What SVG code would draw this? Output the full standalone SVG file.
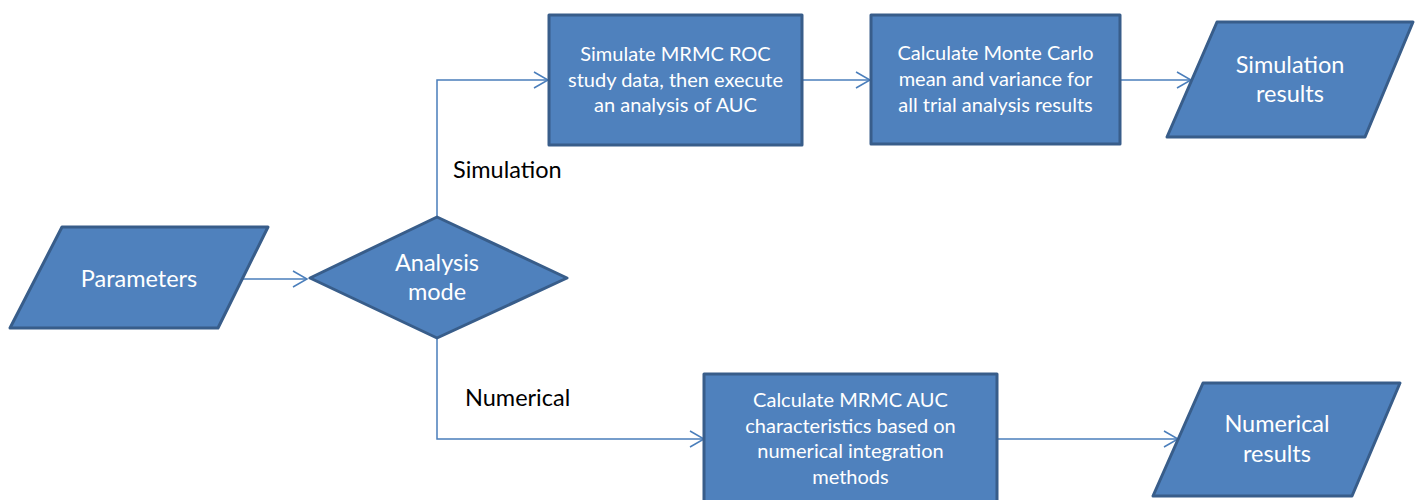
<svg xmlns="http://www.w3.org/2000/svg" width="1417" height="500" viewBox="0 0 1417 500">
  <style>
    .shape { fill: #4F81BD; stroke: #385D8A; stroke-width: 3; stroke-linejoin: round; }
    .wire { fill: none; stroke: #4A7EBB; stroke-width: 1.5; }
    .t { font-family: Lato, "Open Sans", sans-serif; fill: #FFFFFF; text-anchor: middle; }
    .big { font-size: 23.5px; }
    .small { font-size: 20px; }
    .lbl { font-family: Lato, "Open Sans", sans-serif; font-size: 23.5px; fill: #000000; }
  </style>
  <defs>
    <marker id="arrow" markerUnits="userSpaceOnUse" markerWidth="20" markerHeight="20" refX="15" refY="9" orient="auto">
      <path d="M1,1 L15,9 L1,17" fill="none" stroke="#4A7EBB" stroke-width="1.5"/>
    </marker>
  </defs>

  <rect width="1417" height="500" fill="#FFFFFF"/>

  <!-- connectors -->
  <g id="connectors">
    <path class="wire" d="M242,279 H307" marker-end="url(#arrow)"/>
    <path class="wire" d="M437,217 V80 H548" marker-end="url(#arrow)"/>
    <path class="wire" d="M437,338 V439 H704" marker-end="url(#arrow)"/>
    <path class="wire" d="M802,80 H870" marker-end="url(#arrow)"/>
    <path class="wire" d="M1120,80 H1191" marker-end="url(#arrow)"/>
    <path class="wire" d="M997,439 H1178" marker-end="url(#arrow)"/>
  </g>

  <!-- branch labels -->
  <g id="label-simulation">
    <text class="lbl" x="453" y="178">Simulation</text>
  </g>
  <g id="label-numerical">
    <text class="lbl" x="465" y="406">Numerical</text>
  </g>

  <!-- input -->
  <g id="parameters">
    <polygon class="shape" points="62,227 268,227 218,328 10,328"/>
    <text class="t big" x="139" y="287">Parameters</text>
  </g>

  <!-- decision -->
  <g id="analysis-mode">
    <polygon class="shape" points="310,278 437,217 567,278 437,338"/>
    <text class="t big" x="437" y="271">Analysis</text>
    <text class="t big" x="437" y="300">mode</text>
  </g>

  <!-- simulation branch -->
  <g id="simulate">
    <rect class="shape" x="549" y="15" width="253" height="130"/>
    <text class="t small" x="675.5" y="61">Simulate MRMC ROC</text>
    <text class="t small" x="675.5" y="87">study data, then execute</text>
    <text class="t small" x="675.5" y="112">an analysis of AUC</text>
  </g>

  <g id="monte-carlo">
    <rect class="shape" x="871" y="15" width="249" height="129"/>
    <text class="t small" x="995.5" y="60">Calculate Monte Carlo</text>
    <text class="t small" x="995.5" y="86">mean and variance for</text>
    <text class="t small" x="995.5" y="112">all trial analysis results</text>
  </g>

  <g id="simulation-results">
    <polygon class="shape" points="1217,22 1413,22 1365,137 1167,137"/>
    <text class="t big" x="1290" y="73">Simulation</text>
    <text class="t big" x="1290" y="102">results</text>
  </g>

  <!-- numerical branch -->
  <g id="numerical">
    <rect class="shape" x="704" y="374" width="293" height="135"/>
    <text class="t small" x="850.5" y="407">Calculate MRMC AUC</text>
    <text class="t small" x="850.5" y="433">characteristics based on</text>
    <text class="t small" x="850.5" y="458">numerical integration</text>
    <text class="t small" x="850.5" y="484">methods</text>
  </g>

  <g id="numerical-results">
    <polygon class="shape" points="1203,383 1400,383 1352,496 1153,496"/>
    <text class="t big" x="1277" y="432">Numerical</text>
    <text class="t big" x="1277" y="462">results</text>
  </g>
</svg>
